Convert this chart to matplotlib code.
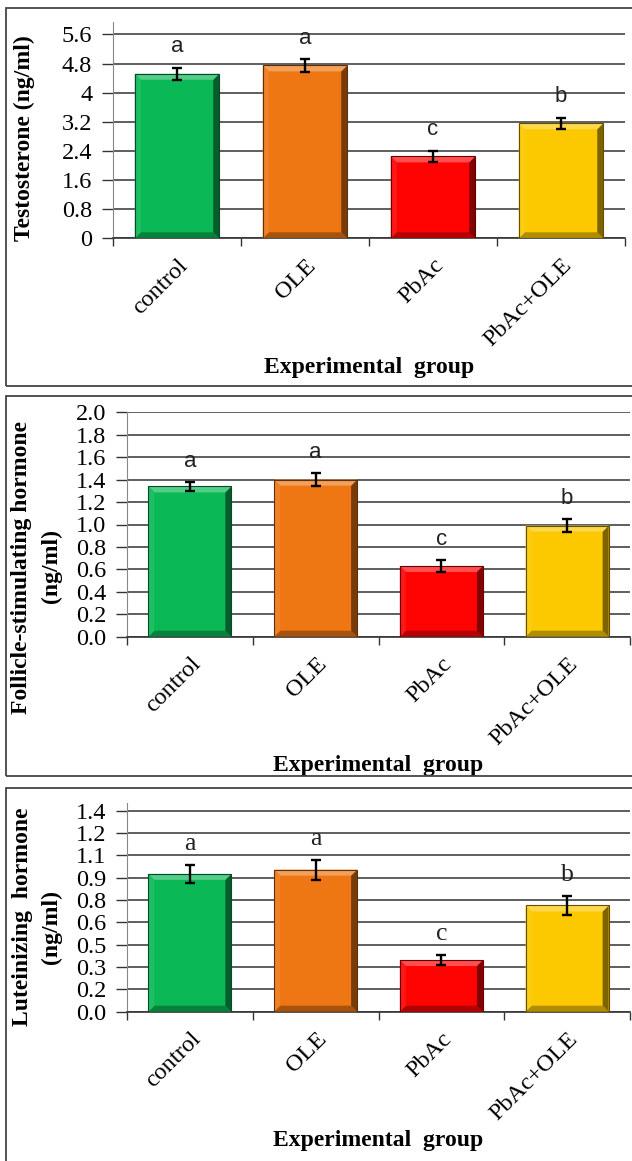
import matplotlib
matplotlib.use('Agg')
import matplotlib.pyplot as plt
import matplotlib.colors as mcolors
from matplotlib.patches import Polygon, Rectangle
import numpy as np

groups = ['control', 'OLE', 'PbAc', 'PbAc+OLE']
bar_colors = ['#0BB856', '#EE7714', '#FF0303', '#FCC800']
letters = ['a', 'a', 'c', 'b']

testosterone = [4.52, 4.75, 2.25, 3.16]
testosterone_err = [0.17, 0.17, 0.16, 0.15]
testosterone_ticks = [0, 0.8, 1.6, 2.4, 3.2, 4, 4.8, 5.6]
testosterone_ticklabels = ['0', '0.8', '1.6', '2.4', '3.2', '4', '4.8', '5.6']

fsh = [1.34, 1.40, 0.63, 0.99]
fsh_err = [0.04, 0.06, 0.05, 0.06]
fsh_ticks = [0.0, 0.2, 0.4, 0.6, 0.8, 1.0, 1.2, 1.4, 1.6, 1.8, 2.0]

lh = [0.96, 0.99, 0.36, 0.74]
lh_err = [0.065, 0.07, 0.033, 0.065]
lh_ticks = np.linspace(0, 1.4, 10)

W, H = 632, 1161
GRID = '#333333'
SERIF = 'Liberation Serif'


def mix(color, other, t):
    c = np.array(mcolors.to_rgb(color))
    o = np.array(mcolors.to_rgb(other))
    return tuple((1 - t) * c + t * o)


def add_bevel(ax, bars, colors, b=6):
    inv = ax.transData.inverted()
    for rect, col in zip(bars, colors):
        x0, y0 = rect.get_x(), rect.get_y()
        x1, y1 = x0 + rect.get_width(), y0 + rect.get_height()
        (X0, Y0), (X1, Y1) = ax.transData.transform([(x0, y0), (x1, y1)])
        o = [(X0, Y0), (X1, Y0), (X1, Y1), (X0, Y1)]
        i = [(X0 + b, Y0 + b), (X1 - b, Y0 + b), (X1 - b, Y1 - b), (X0 + b, Y1 - b)]
        faces = [
            ([o[0], o[1], i[1], i[0]], mix(col, 'black', 0.30)),  # bottom
            ([o[1], o[2], i[2], i[1]], mix(col, 'black', 0.50)),  # right
            ([o[2], o[3], i[3], i[2]], mix(col, 'white', 0.30)),  # top
            ([o[3], o[0], i[0], i[3]], mix(col, 'white', 0.08)),  # left
        ]
        for pts, fc in faces:
            ax.add_patch(Polygon(inv.transform(pts), closed=True, facecolor=fc,
                                 edgecolor='none', zorder=3))
        ax.add_patch(Rectangle((x0, y0), x1 - x0, y1 - y0, facecolor='none',
                               edgecolor=mix(col, 'black', 0.6), lw=0.8, zorder=4))


def px(x0, y_top, x1, y_bot):
    return [x0 / W, 1 - y_bot / H, (x1 - x0) / W, (y_bot - y_top) / H]


def panel(fig, rect, values, errs, ticks, ticklabels, ylim, letter_family, letter_size):
    ax = fig.add_axes(rect)
    x = np.arange(len(groups))
    ax.set_xlim(-0.5, 3.5)
    ax.set_ylim(*ylim)

    bars = ax.bar(x, values, width=0.66, color=bar_colors, zorder=2)
    add_bevel(ax, bars, bar_colors)
    ax.errorbar(x, values, yerr=errs, fmt='none', ecolor='black',
                elinewidth=1.7, capsize=3.5, capthick=1.7, zorder=5)

    for xi, v, e, let in zip(x, values, errs, letters):
        ax.annotate(let, (xi, v + e), xytext=(0, 15), textcoords='offset points',
                    ha='center', va='center', fontsize=letter_size,
                    family=letter_family, color='#222222', zorder=6)

    ax.set_yticks(ticks)
    ax.set_yticklabels(ticklabels, fontsize=17.5, family=SERIF)
    ax.yaxis.grid(True, color=GRID, lw=1.1)
    ax.set_axisbelow(True)

    ax.set_xticks(np.arange(-0.5, 4, 1))
    ax.set_xticklabels([])
    ax.set_xticks(x, minor=True)
    ax.set_xticklabels(groups, minor=True, rotation=45, ha='right',
                       rotation_mode='anchor', fontsize=17.5, family=SERIF)
    ax.tick_params(axis='x', which='minor', length=0, pad=12)
    ax.tick_params(axis='x', which='major', length=6, width=1.0, color=GRID)
    ax.tick_params(axis='y', length=8, width=1.0, color=GRID, pad=7)

    for s in ['top', 'right']:
        ax.spines[s].set_visible(False)
    ax.spines['left'].set_color('#888888')
    ax.spines['bottom'].set_color(GRID)
    ax.spines['bottom'].set_linewidth(1.2)

    ax.set_xlabel('Experimental  group', fontsize=17, fontweight='bold',
                  family=SERIF, labelpad=4)
    return ax


fig = plt.figure(figsize=(W / 100, H / 100), dpi=100)

# panel frames
for top, bot in [(8, 386), (396, 776), (788, 1170)]:
    fig.patches.append(Rectangle((6 / W, 1 - bot / H), 1.2, (bot - top) / H,
                                 transform=fig.transFigure, fill=False,
                                 edgecolor='#444444', lw=1.3, clip_on=False))

panel(fig, px(113, 21.7, 625, 238.3), testosterone, testosterone_err,
      testosterone_ticks, testosterone_ticklabels, (0, 5.95), 'Liberation Sans', 16)
panel(fig, px(127, 412.3, 630, 636.7), fsh, fsh_err,
      fsh_ticks, ['%.1f' % t for t in fsh_ticks], (0, 2.0), 'Liberation Sans', 16)
panel(fig, px(127, 802.7, 630, 1011.7), lh, lh_err,
      lh_ticks, ['%.1f' % t for t in lh_ticks], (0, 1.456), SERIF, 18.5)

ylab = dict(rotation=90, ha='center', va='center', fontsize=17,
            fontweight='bold', family=SERIF)
fig.text(24 / W, 1 - 138 / H, 'Testosterone (ng/ml)', **ylab)
fig.text(22 / W, 1 - 567 / H, 'Follicle-stimulating hormone', **ylab)
fig.text(51 / W, 1 - 566 / H, '(ng/ml)', **ylab)
fig.text(23 / W, 1 - 917 / H, 'Luteinizing  hormone', **ylab)
fig.text(51 / W, 1 - 927 / H, '(ng/ml)', **ylab)

fig.savefig('out.png', dpi=100, facecolor='white')
